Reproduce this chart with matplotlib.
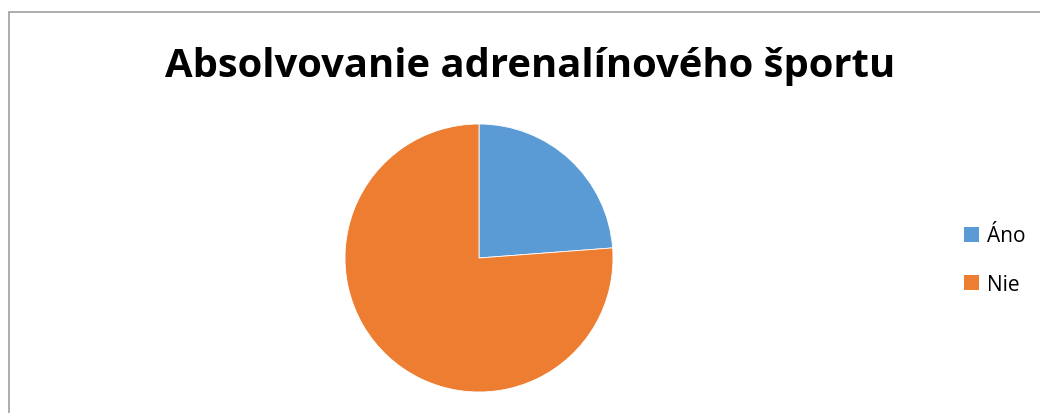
import matplotlib
matplotlib.use("Agg")
import matplotlib.pyplot as plt
from matplotlib.patches import Rectangle, Patch

title = "Absolvovanie adrenalínového športu"
labels = ["Áno", "Nie"]
values = [23.8, 76.2]
colors = ["#5B9BD5", "#ED7D31"]

W, H = 1040, 414
fig = plt.figure(figsize=(W / 100, H / 100), dpi=100)
fig.patch.set_facecolor("white")

# border
fig.patches.append(Rectangle((8.5 / W, -0.1), 1.2, (H - 12.5) / H + 0.1,
                             transform=fig.transFigure, fill=False,
                             edgecolor="#A0A0A0", linewidth=1.2))

cx, cy, r = 479, 259, 134
ax = fig.add_axes([(cx - r) / W, (H - cy - r) / H, 2 * r / W, 2 * r / H])
ax.pie(values, colors=colors, startangle=90, counterclock=False,
       wedgeprops=dict(linewidth=0.6, edgecolor="white"))
ax.set_xlim(-1, 1)
ax.set_ylim(-1, 1)
ax.set_aspect("equal")
ax.axis("off")

fig.text(530 / W, 1 - 67 / H, title, ha="center", va="center",
         fontsize=28.8, fontweight="bold", family=["Open Sans", "DejaVu Sans"])

handles = [Patch(facecolor=c, edgecolor="none") for c in colors]
fig.legend(handles, labels, loc="center left",
           bbox_to_anchor=(945 / W, 1 - 261 / H), frameon=False,
           prop=dict(family=["Open Sans", "DejaVu Sans"], size=15),
           handlelength=0.75, handleheight=0.75, handletextpad=0.35,
           labelspacing=1.3)

fig.savefig("out.png", dpi=100, facecolor="white")
